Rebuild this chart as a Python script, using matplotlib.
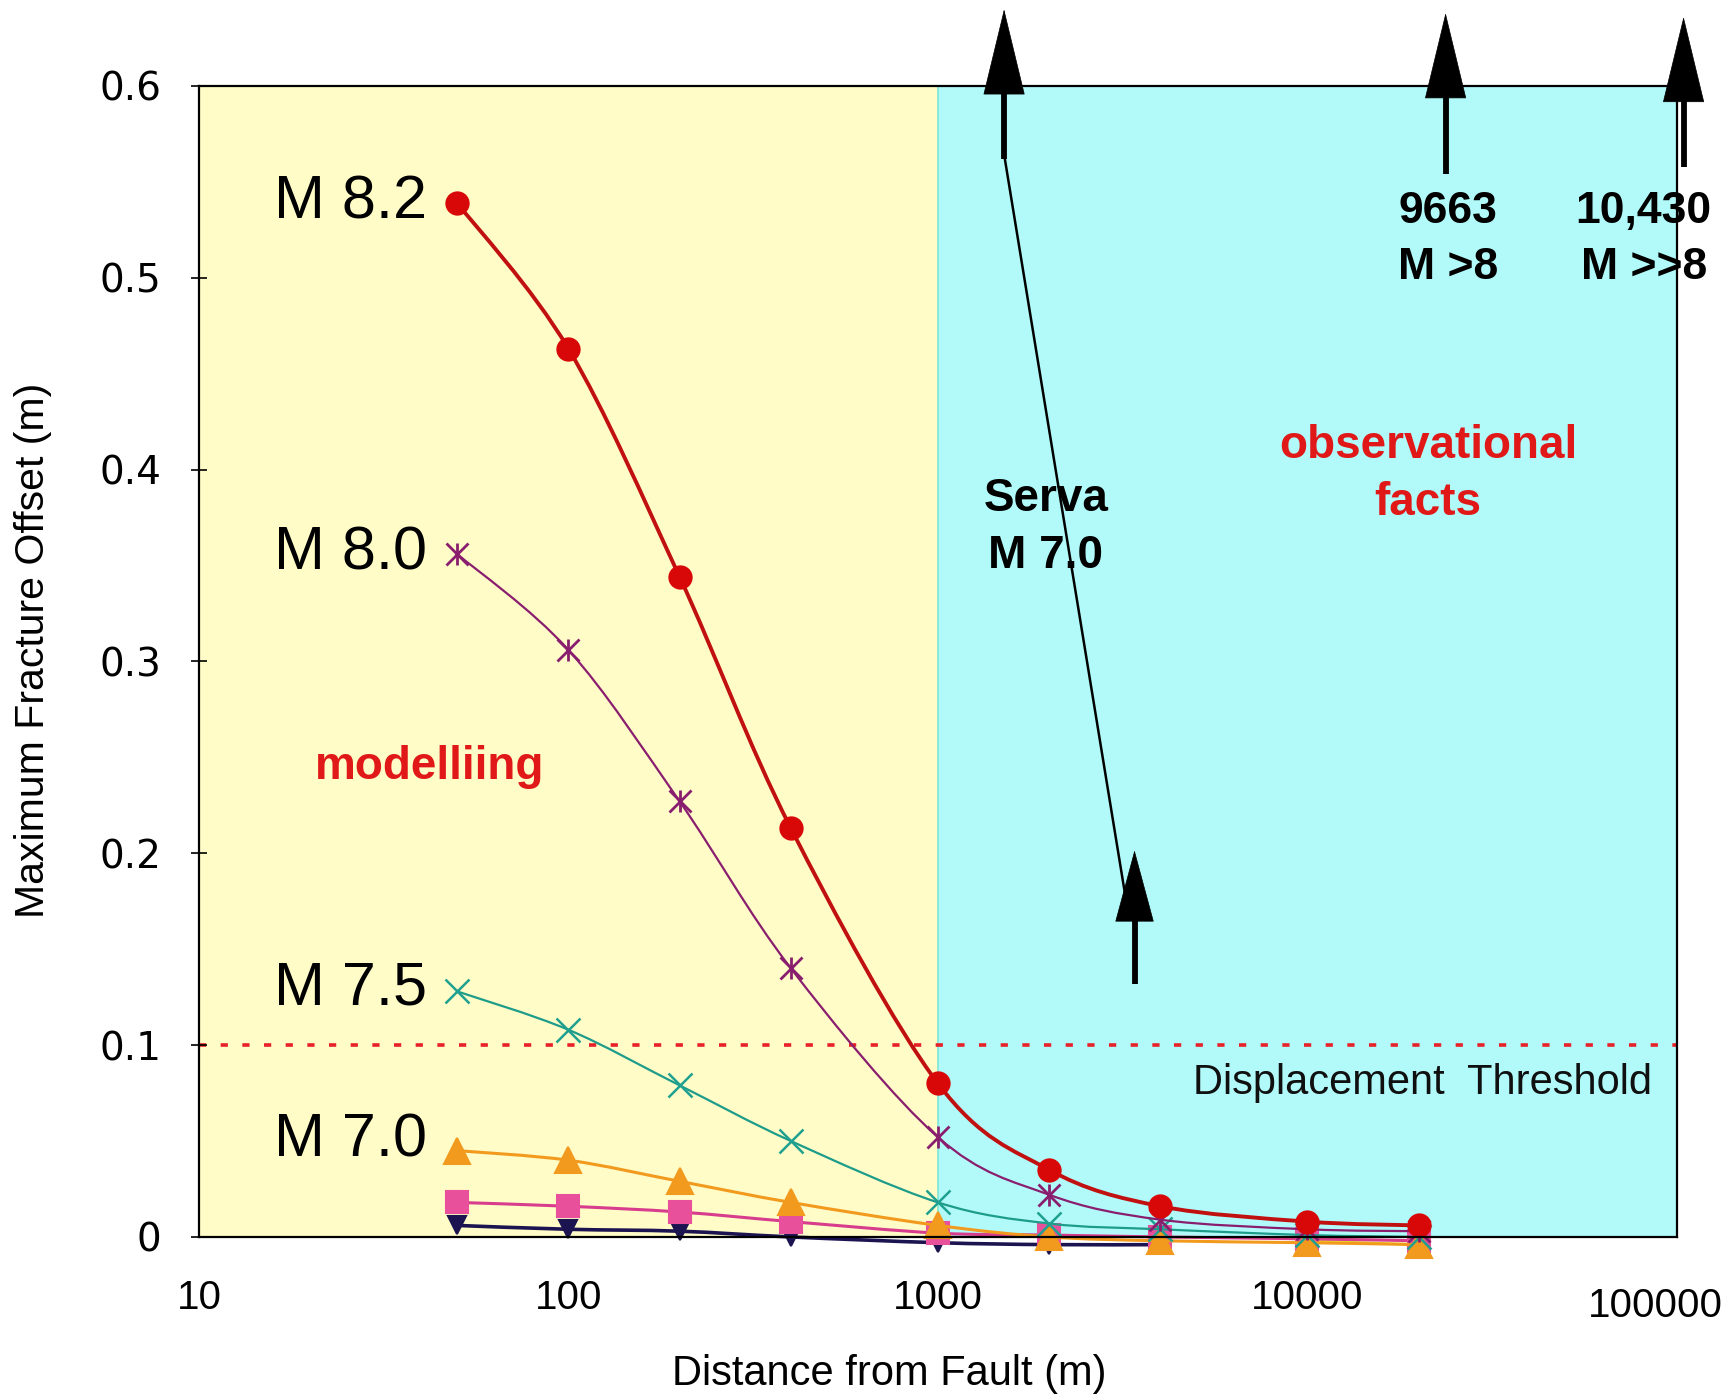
import numpy as np
import matplotlib
matplotlib.use("Agg")
import matplotlib.pyplot as plt
from matplotlib.path import Path
from matplotlib.patches import PathPatch
from matplotlib.transforms import ScaledTranslation

# ---------------- data ----------------
distance = [50, 100, 200, 400, 1000, 2000, 4000, 10000, 20000]
m82 = [0.539, 0.463, 0.344, 0.213, 0.080, 0.035, 0.016, 0.008, 0.006]
m80 = [0.356, 0.306, 0.227, 0.140, 0.052, 0.022, 0.009, 0.004, 0.003]
m75 = [0.128, 0.108, 0.079, 0.050, 0.018, 0.007, 0.004, 0.001, 0.000]
m70 = [0.045, 0.040, 0.029, 0.018, 0.006, 0.000, -0.002, -0.003, -0.004]
pink_vals = [0.018, 0.016, 0.013, 0.008, 0.002, 0.001, 0.000, -0.001, -0.002]
navy_dist = [50, 100, 200, 400, 1000, 2000, 4000]
navy_vals = [0.006, 0.004, 0.003, 0.000, -0.003, -0.004, -0.004]
yellow_dist = [10000, 20000]
yellow_vals = [-0.002, -0.004]

threshold = 0.1
split_x = 1000
xlim = (10, 100000)
ylim = (0, 0.6)
yticks = [0, 0.1, 0.2, 0.3, 0.4, 0.5, 0.6]
ytick_labels = ["0", "0.1", "0.2", "0.3", "0.4", "0.5", "0.6"]
xticks = [10, 100, 1000, 10000, 100000]
xtick_labels = ["10", "100", "1000", "10000", "100000"]

# arrows (x, shaft bottom, head base, tip)
top_arrows_x = [1510, 23650, 104200]
top_arrows_y = [(0.562, 0.597, 0.640), (0.554, 0.597, 0.638), (0.558, 0.597, 0.636)]
serva_line_x = [1517, 3289]
serva_line_y = [0.562, 0.166]
serva_arrow_x = 3404
serva_arrow_y = (0.132, 0.166, 0.2015)

SANS = ["Liberation Sans", "DejaVu Sans"]
plt.rcParams["font.family"] = SANS

fig = plt.figure(figsize=(17.36, 13.98), dpi=100)
ax = fig.add_axes([0.1146, 0.1152, 0.8514, 0.8233])
ax.set_xscale("log")
ax.set_xlim(*xlim)
ax.set_ylim(*ylim)

# backgrounds
ax.axvspan(xlim[0], split_x, color="#FFFCC8", zorder=0, lw=0)
ax.axvspan(split_x, xlim[1], color="#B2FAFA", zorder=0, lw=0)
ax.axvline(split_x, color="#7FE6D6", lw=1.2, zorder=0.5)

# threshold
ax.axhline(threshold, color="#E82028", lw=2.6, dashes=(2.0, 4.0), zorder=1)


def smooth_path(xs, ys):
    u = np.log10(np.asarray(xs, float))
    v = np.asarray(ys, float)
    n = len(u)
    verts = [(xs[0], v[0])]
    codes = [Path.MOVETO]
    for i in range(n - 1):
        u0, v0 = (u[i - 1], v[i - 1]) if i > 0 else (u[i], v[i])
        u3, v3 = (u[i + 2], v[i + 2]) if i + 2 < n else (u[i + 1], v[i + 1])
        c1 = (10 ** (u[i] + (u[i + 1] - u0) / 6), v[i] + (v[i + 1] - v0) / 6)
        c2 = (10 ** (u[i + 1] - (u3 - u[i]) / 6), v[i + 1] - (v3 - v[i]) / 6)
        verts += [c1, c2, (xs[i + 1], v[i + 1])]
        codes += [Path.CURVE4] * 3
    return Path(verts, codes)


def series(xs, ys, lc, lw, mk, mc, ms, mew=1.5, z=3, extra=None):
    p = PathPatch(smooth_path(xs, ys), fill=False, edgecolor=lc, lw=lw,
                  zorder=z, clip_on=False, capstyle="round", joinstyle="round")
    ax.add_patch(p)
    ax.plot(xs, ys, ls="none", marker=mk, color=mc, ms=ms, mew=mew,
            mec=mc, zorder=z + 0.1, clip_on=False)
    if extra:
        ax.plot(xs, ys, ls="none", marker=extra, color=mc, ms=ms, mew=mew,
                zorder=z + 0.1, clip_on=False)


series(yellow_dist, yellow_vals, "#E8E030", 2.0, "s", "#F0E830", 11, z=2.0)
series(navy_dist, navy_vals, "#1C1450", 2.6, "v", "#1C1450", 13, z=2.2)
series(distance, pink_vals, "#D83C8C", 2.2, "s", "#E8509C", 16, z=2.4)
series(distance, m70, "#F29A1E", 2.2, "^", "#F29A1E", 19, z=2.6)
series(distance, m75, "#1E9C8A", 1.6, "x", "#20A090", 17, mew=1.8, z=2.8)
series(distance, m80, "#8A1E6E", 1.6, "x", "#8A1E6E", 16, mew=2.0, z=3.0, extra="|")
series(distance, m82, "#C01010", 2.8, "o", "#D80808", 16, z=3.2)

# axes styling
for s in ax.spines.values():
    s.set_color("black")
    s.set_linewidth(1.6)
    s.set_zorder(4)
ax.set_yticks(yticks)
ax.set_yticklabels(ytick_labels, fontfamily=["DejaVu Sans"], fontsize=28)
ax.set_xticks(xticks)
ax.set_xticklabels(xtick_labels, fontsize=29)
ax.xaxis.set_minor_locator(matplotlib.ticker.NullLocator())
ax.tick_params(axis="y", direction="inout", length=12, width=1.2, pad=21)
ax.tick_params(axis="x", length=0, pad=30)
last = ax.get_xticklabels()[-1]
last.set_transform(last.get_transform() + ScaledTranslation(-22 / 100, -8 / 100, fig.dpi_scale_trans))

ax.set_xlabel("Distance from Fault (m)", fontsize=30)
ax.xaxis.set_label_coords(0.467, -0.102)
ax.set_ylabel("Maximum Fracture Offset (m)", fontsize=29.5)
ax.yaxis.set_label_coords(-0.112, 0.51)
ax.yaxis.label.set_va("center")

# magnitude labels
for lab, yv in [("M 8.2", 0.539), ("M 8.0", 0.356), ("M 7.5", 0.129), ("M 7.0", 0.050)]:
    ax.text(41.5, yv, lab, fontsize=44, ha="right", va="center", color="black", zorder=5)

ax.text(42, 0.245, "modelliing", fontsize=33, fontweight="bold", color="#E01818",
        ha="center", va="center", zorder=5)
ax.text(21200, 0.3975, "observational\nfacts", fontsize=33, fontweight="bold",
        color="#E01818", ha="center", va="center", linespacing=1.38, zorder=5)
ax.text(1960, 0.370, "Serva\nM 7.0", fontsize=33, fontweight="bold", color="black",
        ha="center", va="center", linespacing=1.38, zorder=5)
ax.text(24000, 0.520, "9663\nM >8", fontsize=32, fontweight="bold", color="black",
        ha="center", va="center", linespacing=1.45, zorder=5, clip_on=False)
ax.text(81300, 0.520, "10,430\nM >>8", fontsize=32, fontweight="bold", color="black",
        ha="center", va="center", linespacing=1.45, zorder=5, clip_on=False)
ax.text(20460, 0.080, "Displacement  Threshold", fontsize=30, color="#101010",
        ha="center", va="center", zorder=5)

# arrows
def arrow(x, ys, hl, hw):
    ybot, ybase, ytip = ys
    ax.plot([x, x], [ybot, ybase], color="black", lw=4.2, solid_capstyle="butt",
            zorder=6, clip_on=False)
    ax.annotate("", xy=(x, ytip), xytext=(x, ybase), annotation_clip=False,
                arrowprops=dict(arrowstyle=f"-|>,head_length={hl},head_width={hw}",
                                color="black", lw=0.5, shrinkA=0, shrinkB=0,
                                mutation_scale=10),
                zorder=6)

for xv, ys in zip(top_arrows_x, top_arrows_y):
    arrow(xv, ys, 6.0, 1.45)
ax.plot(serva_line_x, serva_line_y, color="black", lw=1.8, zorder=6)
arrow(serva_arrow_x, serva_arrow_y, 5.0, 1.35)

fig.savefig("out.png", dpi=100, facecolor="white")
